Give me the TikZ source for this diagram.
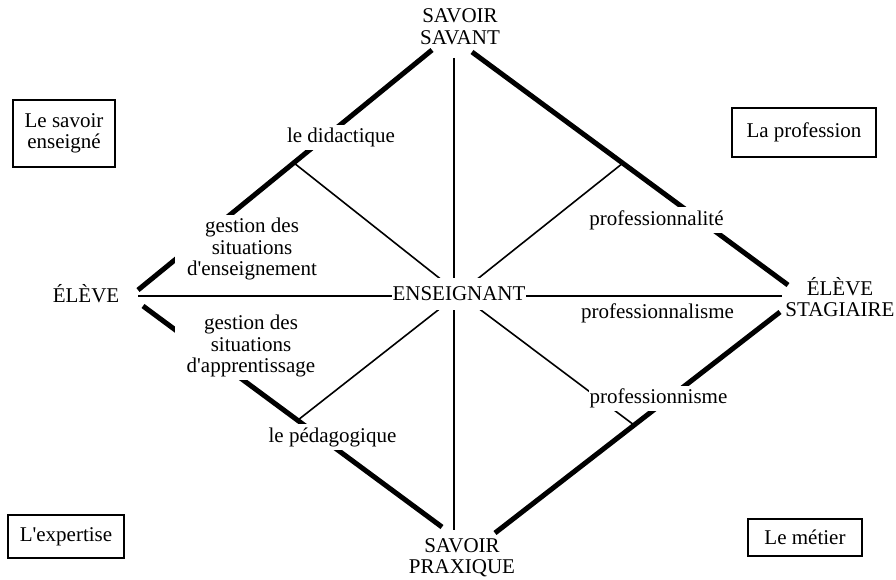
\documentclass[tikz,border=0pt]{standalone}
\usepackage{fontspec}
\setmainfont{Liberation Serif}
\usetikzlibrary{backgrounds}
\begin{document}
\begin{tikzpicture}[x=1pt,y=-1pt,
  lbl/.style={font=\fontsize{21}{21.5}\selectfont, align=center, inner sep=0pt},
  gap/.style={lbl, fill=white, inner xsep=10pt, inner ysep=3pt},
  framed/.style={lbl, draw, line width=2pt},
  heavy/.style={line width=5pt, line cap=butt},
  fine/.style={line width=1.6pt},
]
\useasboundingbox (0,0) rectangle (896,580);
% corner labels
\node[lbl] (ss) at (460,26.5) {SAVOIR\\SAVANT};
\node[lbl] (sp) at (462,557.5) {SAVOIR\\PRAXIQUE};
\node[lbl, anchor=base] (el) at (86,302) {ÉLÈVE};
\node[lbl] (es) at (840,297) {ÉLÈVE\\STAGIAIRE};
\node[lbl, fill=white, inner xsep=1pt, inner ysep=9pt, anchor=base] (ens) at (459,300.5) {ENSEIGNANT};
% labels on the lines
\node[gap] (did) at (341,137.5) {le didactique};
\node[gap, inner xsep=12pt] (gse) at (252,249) {gestion des\\situations\\d\textquotesingle enseignement};
\node[gap, inner xsep=12pt] (gsa) at (251,346) {gestion des\\situations\\d\textquotesingle apprentissage};
\node[gap] (ped) at (332.5,437) {le pédagogique};
\node[gap] (pte) at (656.5,220) {professionnalité};
\node[gap] (pme) at (657.5,313.5) {professionnalisme};
\node[gap, inner xsep=1pt] (pse) at (658.5,398.5) {professionnisme};
% framed boxes
\node[framed, minimum width=102pt, minimum height=67pt] (b1) at (64,133.5) {Le savoir\\enseigné};
\node[framed, minimum width=144pt, minimum height=49pt] (b2) at (804,132.5) {La profession};
\node[framed, minimum width=116pt, minimum height=43pt] (b3) at (66,536.5) {L\textquotesingle expertise};
\node[framed, minimum width=114pt, minimum height=37pt] (b4) at (805,537.5) {Le métier};
% line end points
\coordinate (tl0) at (138,290);
\coordinate (tl1) at (432,50);
\coordinate (tr1) at (472,52);
\coordinate (tr0) at (788,285);
\coordinate (br0) at (780,312);
\coordinate (br1) at (495,533);
\coordinate (bl0) at (143,306);
\coordinate (bl1) at (442,527);
\coordinate (vt) at (454,58);
\coordinate (vb) at (454,530);
\coordinate (hl) at (138,296);
\coordinate (hr) at (782,296);
\coordinate (jul) at (294,163);
\coordinate (jur) at (623,163);
\coordinate (jll) at (298,420);
\coordinate (jlr) at (634,425);
\begin{scope}[on background layer]
\draw[heavy] (tl0) -- (tl1);
\draw[heavy] (tr1) -- (tr0);
\draw[heavy] (br0) -- (br1);
\draw[heavy] (bl0) -- (bl1);
\draw[fine] (vt) -- (vb);
\draw[fine] (hl) -- (hr);
\draw[fine] (jul) -- (ens.center);
\draw[fine] (jur) -- (ens.center);
\draw[fine] (jll) -- (ens.center);
\draw[fine] (jlr) -- (ens.center);
\end{scope}
\end{tikzpicture}
\end{document}
